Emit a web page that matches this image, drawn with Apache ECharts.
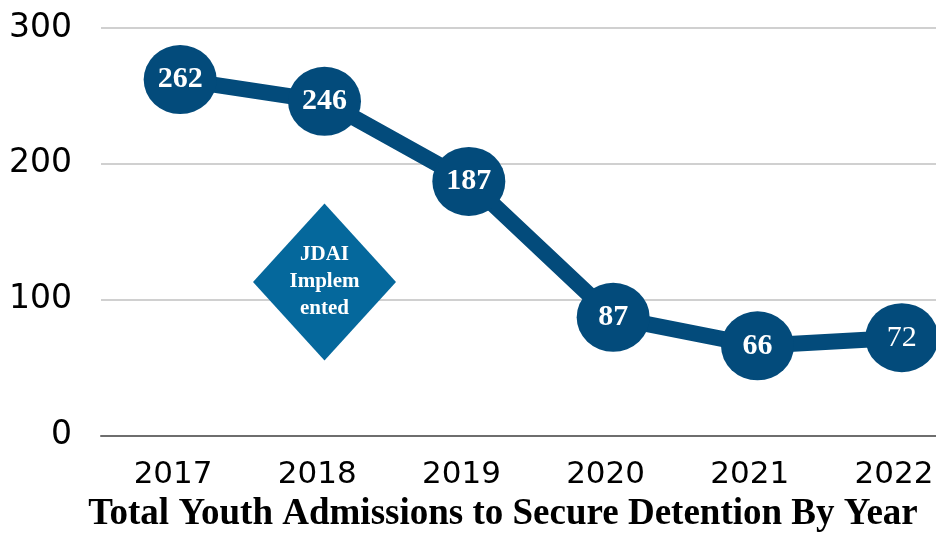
<!DOCTYPE html>
<html><head><meta charset="utf-8">
<script src="https://cdn.jsdelivr.net/npm/echarts@6/dist/echarts.min.js"></script>
<style>html,body{margin:0;padding:0;background:#fff}#c{width:936px;height:533px}</style>
</head><body><div id="c"></div>
<script>
var years = ['2017','2018','2019','2020','2021','2022'];
var admissions = [262, 246, 187, 87, 66, 72];
var boldLabel = [true, true, true, true, true, false];
var yTicks = [0, 100, 200, 300];
var annotationYear = ['2018'];
var annotationValue = [113];
var annotationText = ['JDAI\nImplem\nented'];
var chartTitle = 'Total Youth Admissions to Secure Detention By Year';

var chart = echarts.init(document.getElementById('c'), null, {renderer:'canvas'});
var lineData = admissions.map(function(v,i){
  return {value: v, label: {fontWeight: boldLabel[i] ? 'bold' : 'normal'}};
});
chart.setOption({
  animation: false,
  title: {
    text: chartTitle, left: 498, top: 491, textAlign: 'center',
    textStyle: {fontFamily: 'Liberation Serif', fontWeight: 'bold', fontSize: 37, color: '#000'}
  },
  grid: [
    {left: 101, width: 865, top: 28, height: 407.5, outerBoundsMode: 'none', containLabel: false},
    {left: 108, width: 866, top: 28, height: 407.5, outerBoundsMode: 'none', containLabel: false}
  ],
  xAxis: [
    {gridIndex: 0, type: 'category', data: years, boundaryGap: true,
     axisLine: {lineStyle: {color: '#6e6e6e', width: 2}}, axisTick: {show: false},
     axisLabel: {color: '#000', fontFamily: 'DejaVu Sans', fontSize: 31, margin: 24}},
    {gridIndex: 1, type: 'category', data: years, boundaryGap: true, show: false}
  ],
  yAxis: [
    {gridIndex: 0, type: 'value', min: yTicks[0], max: yTicks[yTicks.length-1], interval: 100,
     axisLine: {show: false}, axisTick: {show: false},
     splitLine: {lineStyle: {color: '#c0c0c0', width: 1.5}},
     axisLabel: {color: '#000', fontFamily: 'DejaVu Sans', fontSize: 33, margin: 29}},
    {gridIndex: 1, type: 'value', min: yTicks[0], max: yTicks[yTicks.length-1], interval: 100, show: false}
  ],
  series: [
    {type: 'line', xAxisIndex: 1, yAxisIndex: 1, data: lineData,
     lineStyle: {color: '#034b7b', width: 16},
     itemStyle: {color: '#034b7b'},
     symbol: 'circle', symbolSize: [73, 69], showAllSymbol: true,
     label: {show: true, position: 'inside', color: '#fff', fontFamily: 'Liberation Serif', fontSize: 30},
     z: 3},
    {type: 'scatter', xAxisIndex: 1, yAxisIndex: 1,
     data: annotationYear.map(function(y,i){ return [y, annotationValue[i]]; }),
     symbol: 'diamond', symbolSize: [143, 157],
     itemStyle: {color: '#05689c', opacity: 1},
     label: {show: true, position: 'inside', formatter: function(p){ return annotationText[p.dataIndex]; },
       color: '#fff', fontFamily: 'Liberation Serif', fontWeight: 'bold', fontSize: 21, lineHeight: 27},
     emphasis: {disabled: true},
     z: 2}
  ]
});
</script></body></html>
